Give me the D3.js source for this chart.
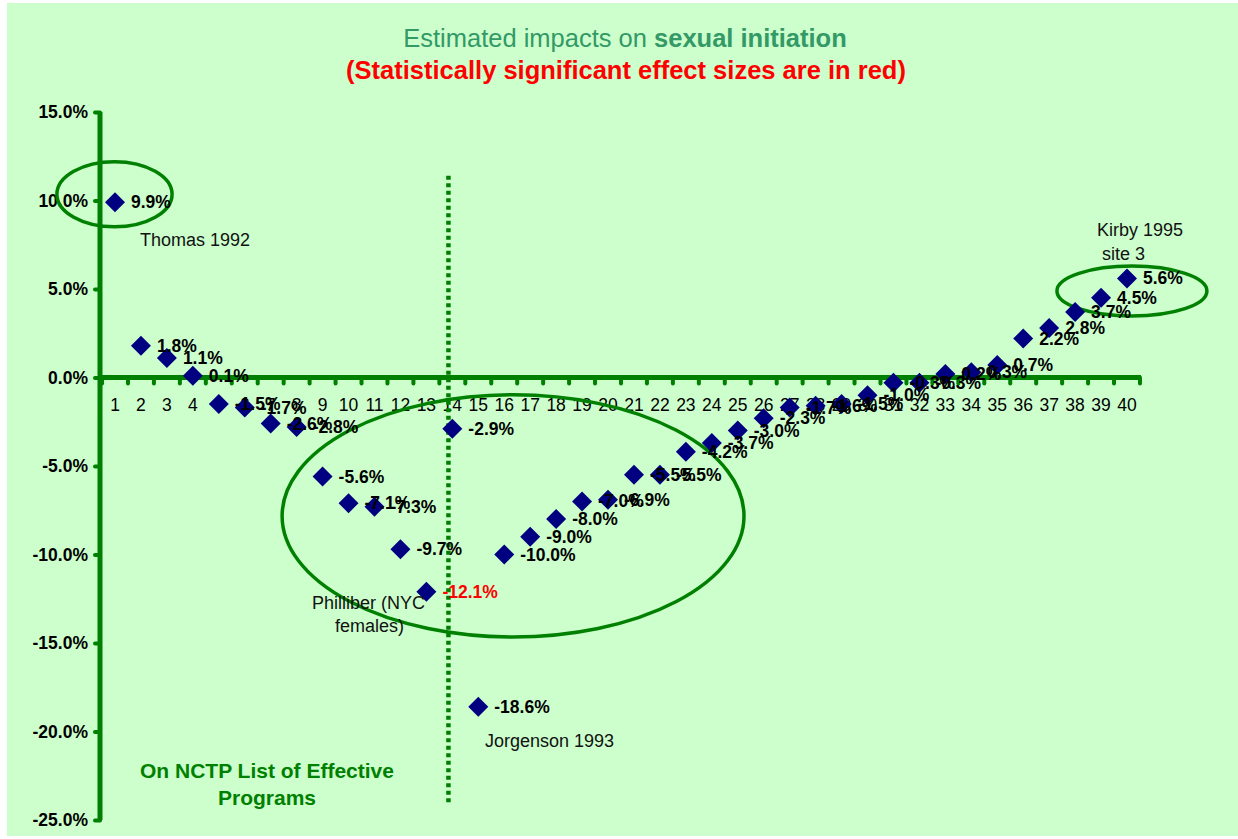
<!DOCTYPE html>
<html>
<head>
  <meta charset="utf-8">
  <title>Estimated impacts on sexual initiation</title>
  <script src="https://d3js.org/d3.v7.min.js"></script>
  <style>
    body { margin: 0; background: #ffffff; }
    svg { display: block; font-family: "Liberation Sans", Arial, sans-serif; }
  </style>
</head>
<body>
<div id="chart"></div>
<script>
// Program number and estimated effect (percentage points)
const programs = d3.range(1, 41);
const effects = [9.9, 1.8, 1.1, 0.1, -1.5, -1.7, -2.6, -2.8, -5.6, -7.1,
                 -7.3, -9.7, -12.1, -2.9, -18.6, -10.0, -9.0, -8.0, -7.0, -6.9,
                 -5.5, -5.5, -4.2, -3.7, -3.0, -2.3, -1.7, -1.6, -1.5, -1.0,
                 -0.3, -0.3, 0.2, 0.3, 0.7, 2.2, 2.8, 3.7, 4.5, 5.6];
// statistically significant ones (drawn in red)
const significant = [13];
const yTicks = [15, 10, 5, 0, -5, -10, -15, -20, -25];

// Setting the size of the page
const W = 1238, H = 839;

// plain hyphen instead of d3's unicode minus
const pct = d => d.toFixed(1) + "%";

const svg = d3.select("#chart").append("svg")
    .attr("width", W)
    .attr("height", H);

// light green background panel
svg.append("rect")
    .attr("x", 7).attr("y", 3)
    .attr("width", W - 7).attr("height", 833)
    .attr("fill", "#ccffcc");

// scales
const x = d3.scaleLinear().domain([1, 40]).range([115, 1127]);
const y = d3.scaleLinear().domain([-25, 15]).range([820, 112]);
const step = x(2) - x(1);

const green = "#008000";

// Title
const title = svg.append("text")
    .attr("x", 625).attr("y", 47)
    .attr("text-anchor", "middle")
    .style("font-size", "25.5px")
    .attr("fill", "#339966");
title.append("tspan").text("Estimated impacts on ");
title.append("tspan").style("font-weight", "bold").text("sexual initiation");

svg.append("text")
    .attr("x", 626).attr("y", 79)
    .attr("text-anchor", "middle")
    .style("font-size", "25.5px")
    .style("font-weight", "bold")
    .attr("fill", "#ff0000")
    .text("(Statistically significant effect sizes are in red)");

// Y axis
const yAxis = svg.append("g")
    .attr("transform", `translate(${x(1) - 15},0)`)
    .call(d3.axisLeft(y).tickValues(yTicks).tickSize(5).tickPadding(7)
      .tickFormat(pct));
yAxis.select(".domain").remove();
yAxis.selectAll(".tick line")
    .attr("stroke", green).attr("stroke-width", 4).attr("stroke-linecap", "round");
yAxis.selectAll(".tick text")
    .attr("fill", "#000").style("font-size", "17.5px").style("font-weight", "bold")
    .attr("font-family", null);
yAxis.append("line")
    .attr("y1", y(15)).attr("y2", y(-25))
    .attr("stroke", green).attr("stroke-width", 5);

// X axis at zero, ticks between categories
const xAxis = svg.append("g").attr("transform", `translate(0,${y(0)})`);
xAxis.selectAll(".tk")
    .data(d3.range(0.5, 41, 1))
    .join("line")
      .attr("x1", d => x(d)).attr("x2", d => x(d))
      .attr("y1", 0).attr("y2", 6)
      .attr("stroke", green).attr("stroke-width", 4).attr("stroke-linecap", "round");
xAxis.append("line")
    .attr("x1", x(1) - 15).attr("x2", x(40) + step / 2 + 1)
    .attr("stroke", green).attr("stroke-width", 5);
xAxis.selectAll(".cat")
    .data(programs)
    .join("text")
      .attr("x", d => x(d)).attr("y", 33)
      .attr("text-anchor", "middle")
      .style("font-size", "17.5px")
      .text(d => d);

// Dotted divider
svg.append("line")
    .attr("x1", x(13.85)).attr("x2", x(13.85))
    .attr("y1", y(11.4)).attr("y2", y(-24.2))
    .attr("stroke", green).attr("stroke-width", 4.5)
    .attr("stroke-dasharray", "4 3.5");

// Ellipses round the highlighted programs (centre/radius in data units)
const rings = [
  {cx: 0.98, cy: 10.35, rx: 2.22, ry: 1.84},
  {cx: 16.34, cy: -7.82, rx: 8.9, ry: 6.84},
  {cx: 40.19, cy: 4.89, rx: 2.89, ry: 1.41}
];
svg.selectAll(".ring")
    .data(rings)
    .join("ellipse")
      .attr("cx", d => x(d.cx)).attr("cy", d => y(d.cy))
      .attr("rx", d => d.rx * step).attr("ry", d => (y(0) - y(d.ry)))
      .attr("fill", "none").attr("stroke", green).attr("stroke-width", 3.5);

// Diamonds
const pts = programs.map((p, i) => ({p: p, v: effects[i]}));
svg.selectAll(".pt")
    .data(pts)
    .join("path")
      .attr("d", d3.symbol(d3.symbolSquare, 200))
      .attr("transform", d => `translate(${x(d.p)},${y(d.v)}) rotate(45)`)
      .attr("fill", "#000080");

// Value labels
svg.selectAll(".lbl")
    .data(pts)
    .join("text")
      .attr("x", d => x(d.p) + 16)
      .attr("y", d => y(d.v) + 6)
      .style("font-size", "17.5px")
      .style("font-weight", "bold")
      .attr("fill", d => significant.includes(d.p) ? "#ff0000" : "#000")
      .text(d => pct(d.v));

// Study names
const notes = [
  {t: "Thomas 1992", x: 140, y: 246},
  {t: "Kirby 1995", x: 1097, y: 236},
  {t: "site 3", x: 1102, y: 260},
  {t: "Philliber (NYC", x: 312, y: 609},
  {t: "females)", x: 335, y: 632},
  {t: "Jorgenson 1993", x: 485, y: 747}
];
svg.selectAll(".note")
    .data(notes)
    .join("text")
      .attr("x", d => d.x).attr("y", d => d.y)
      .style("font-size", "18px")
      .attr("fill", "#111")
      .text(d => d.t);

// NCTP caption
svg.append("text")
    .attr("x", 267).attr("y", 778)
    .attr("text-anchor", "middle")
    .style("font-size", "21px").style("font-weight", "bold")
    .attr("fill", green)
    .text("On NCTP List of Effective");
svg.append("text")
    .attr("x", 267).attr("y", 805)
    .attr("text-anchor", "middle")
    .style("font-size", "21px").style("font-weight", "bold")
    .attr("fill", green)
    .text("Programs");
</script>
</body>
</html>
